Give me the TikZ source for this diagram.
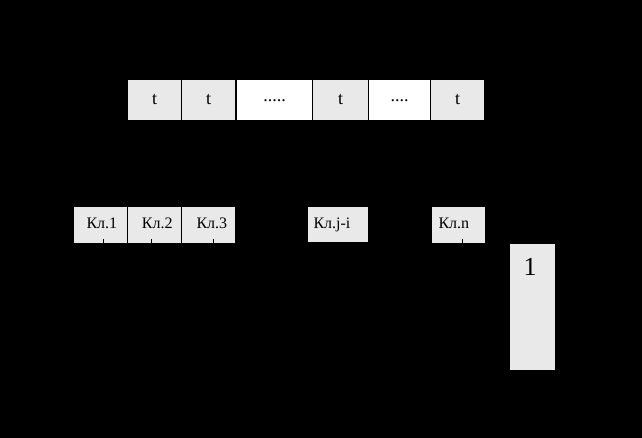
\documentclass[tikz,border=0pt]{standalone}
\usepackage{fontspec}
\setmainfont{Liberation Serif}
\definecolor{boxgray}{HTML}{E9E9E9}
\begin{document}
\begin{tikzpicture}[x=1pt,y=-1pt,
  cell/.style={draw=black,line width=1pt,fill=boxgray,rectangle,inner sep=0pt,anchor=north west},
  wcell/.style={cell,fill=white},
  toptext/.style={font=\fontsize{18}{20}\selectfont,inner sep=0pt},
  kltext/.style={font=\fontsize{16}{18}\selectfont,inner sep=0pt,anchor=base west},
  tick/.style={draw=black,line width=1pt}]
\fill[black] (0,0) rectangle (642,438);
\useasboundingbox (0,0) rectangle (642,438);
% top row
\node[cell,minimum width=54pt,minimum height=41pt] (t1) at (127,79) {};
\node[cell,minimum width=54pt,minimum height=41pt] (t2) at (181,79) {};
\node[wcell,minimum width=76pt,minimum height=41pt] (d1) at (236,79) {};
\node[cell,minimum width=56pt,minimum height=41pt] (t3) at (312,79) {};
\node[wcell,minimum width=62pt,minimum height=41pt] (d2) at (368,79) {};
\node[cell,minimum width=54pt,minimum height=41pt] (t4) at (430,79) {};
\node[toptext] (t1l) at (t1.center) {t};
\node[toptext] (t2l) at (t2.center) {t};
\node[toptext] (d1l) at ([yshift=-1pt]d1.center) {.....};
\node[toptext] (t3l) at (t3.center) {t};
\node[toptext] (d2l) at ([yshift=-1pt]d2.center) {....};
\node[toptext] (t4l) at (t4.center) {t};
% bottom row
\node[cell,minimum width=54pt,minimum height=37pt] (k1) at (73,206) {};
\node[cell,minimum width=54pt,minimum height=37pt] (k2) at (127,206) {};
\node[cell,minimum width=54pt,minimum height=37pt] (k3) at (181,206) {};
\node[cell,minimum width=61pt,minimum height=36pt] (kj) at (307,206) {};
\node[cell,minimum width=54pt,minimum height=37pt] (kn) at (431,206) {};
\node[kltext] (k1l) at (86.3,229) {Кл.1};
\node[kltext] (k2l) at (141.7,229) {Кл.2};
\node[kltext] (k3l) at (196.3,229) {Кл.3};
\node[kltext] (kjl) at (313.3,229) {Кл.j-i};
\node[kltext] (knl) at (438.3,229) {Кл.n};
% block 1
\node[cell,minimum width=46pt,minimum height=127pt] (b1) at (509,243) {};
\node[font=\fontsize{26}{28}\selectfont,inner sep=0pt] (b1l) at (530,267) {1};
% ticks (connectors leaving the boxes)
\coordinate (c1) at (103,262);
\coordinate (c2) at (151,262);
\coordinate (c3) at (213,262);
\coordinate (cn) at (462,262);
\draw[tick] (k1.south -| c1) ++(0,-5) -- (c1);
\draw[tick] (k2.south -| c2) ++(0,-5) -- (c2);
\draw[tick] (k3.south -| c3) ++(0,-5) -- (c3);
\draw[tick] (kn.south -| cn) ++(0,-5) -- (cn);
\end{tikzpicture}
\end{document}
